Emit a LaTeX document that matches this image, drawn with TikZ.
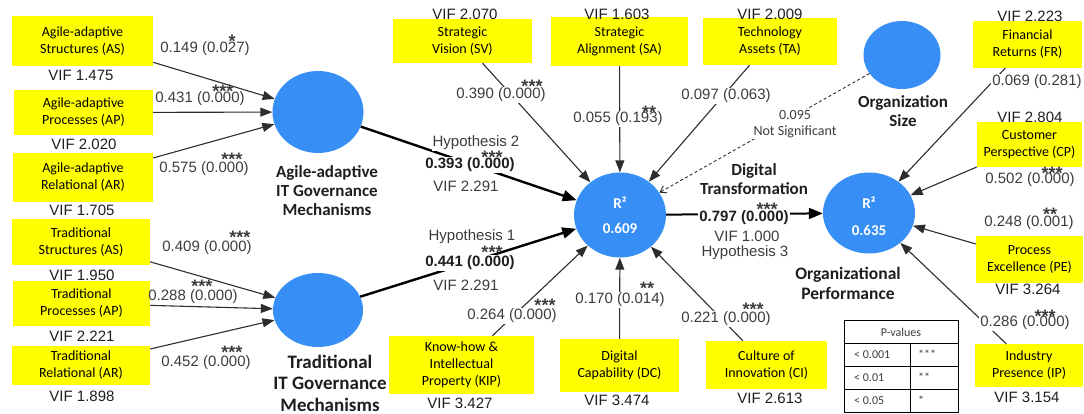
\documentclass[tikz,border=0pt]{standalone}
\usepackage{fontspec}
\setmainfont{Liberation Sans}
\newfontfamily\carl{Carlito}
\usetikzlibrary{shapes.geometric,arrows.meta}
\definecolor{yboxc}{RGB}{255,255,0}
\definecolor{lvblue}{RGB}{55,143,245}
\definecolor{linec}{RGB}{45,45,45}
\definecolor{labc}{RGB}{60,60,60}
\definecolor{darkc}{RGB}{30,30,30}
\begin{document}
\begin{tikzpicture}[x=1pt,y=-1pt,
  ybox/.style={fill=yboxc,inner sep=0pt,align=center,text=black,font=\carl\fontsize{14}{17}\selectfont},
  lv/.style={ellipse,fill=lvblue,inner sep=0pt},
  arr/.style={draw=linec,line width=1.1pt,-{Triangle[length=12pt,width=9pt]}},
  harr/.style={draw=black,line width=2.4pt,-{Triangle[length=14pt,width=11pt]}},
  darr/.style={draw=linec,line width=0.9pt,dash pattern=on 3pt off 2.5pt,-{Straight Barb[length=6pt,width=8pt]}},
  lbl/.style={font=\fontsize{15}{18}\selectfont,text=labc,inner sep=1pt},
  lblw/.style={lbl,fill=white},
  blbl/.style={lbl,fill=white,text=darkc,font=\bfseries\fontsize{15}{18}\selectfont},
  stars/.style={font=\bfseries\fontsize{18}{18}\selectfont,text=labc,inner sep=0pt,anchor=north},
  vif/.style={font=\fontsize{15}{18}\selectfont,text=darkc,inner sep=0pt},
  ttl/.style={font=\carl\bfseries\fontsize{17}{19}\selectfont,align=center,text=darkc,inner sep=0pt},
  cin/.style={text=white,font=\carl\bfseries\fontsize{15}{15}\selectfont,inner sep=0pt},
  tbl/.style={font=\carl\fontsize{12}{14}\selectfont,text=labc,inner sep=0pt}
]
\useasboundingbox (0,0) rectangle (1084,414);

% ---------- yellow indicator boxes ----------
\node[ybox,minimum width=141pt,minimum height=50pt] (AS) at (82.5,41) {Agile-adaptive\\Structures (AS)};
\node[ybox,minimum width=139pt,minimum height=45pt] (AP) at (83.5,112.5) {Agile-adaptive\\Processes (AP)};
\node[ybox,minimum width=140pt,minimum height=49pt] (AR) at (83,177.5) {Agile-adaptive\\Relational (AR)};
\node[ybox,minimum width=138pt,minimum height=46pt] (TS) at (81,242) {Traditional\\Structures (AS)};
\node[ybox,minimum width=137pt,minimum height=45pt] (TP) at (81.5,303.5) {Traditional\\Processes (AP)};
\node[ybox,minimum width=138pt,minimum height=39pt] (TR) at (81,365) {Traditional\\Relational (AR)};

\node[ybox,minimum width=139pt,minimum height=44pt] (SV) at (462.5,41) {Strategic\\Vision (SV)};
\node[ybox,minimum width=137pt,minimum height=49pt] (SA) at (619.5,41.5) {Strategic\\Alignment (SA)};
\node[ybox,minimum width=134pt,minimum height=47pt] (TA) at (770,41.5) {Technology\\Assets (TA)};

\node[ybox,minimum width=145pt,minimum height=58pt] (KIP) at (461.5,365) {Know-how \&\\Intellectual\\Property (KIP)};
\node[ybox,minimum width=119pt,minimum height=53pt] (DC) at (619.5,365.5) {Digital\\Capability (DC)};
\node[ybox,minimum width=121pt,minimum height=48pt] (CI) at (766.5,365) {Culture of\\Innovation (CI)};

\node[ybox,minimum width=109pt,minimum height=47pt] (FR) at (1027.5,44.5) {Financial\\Returns (FR)};
\node[ybox,minimum width=105pt,minimum height=45pt] (CP) at (1029.5,144.5) {Customer\\Perspective (CP)};
\node[ybox,minimum width=107pt,minimum height=47pt] (PE) at (1029.5,259.5) {Process\\Excellence (PE)};
\node[ybox,minimum width=108pt,minimum height=43pt] (IP) at (1029,365.5) {Industry\\Presence (IP)};

% ---------- latent variables ----------
\node[lv,minimum width=91pt,minimum height=82pt] (AGC) at (318,112) {};
\node[lv,minimum width=90pt,minimum height=74pt] (TGC) at (318,310) {};
\node[lv,minimum width=92pt,minimum height=85pt] (DT) at (620,215) {};
\node[lv,minimum width=92pt,minimum height=81pt] (OP) at (869,213) {};
\node[lv,minimum width=77pt,minimum height=68pt] (OS) at (902,55) {};

\node[cin] (DTr) at (620,203) {R²};
\node[cin] (DTv) at (620,228) {0.609};
\node[cin] (OPr) at (869,203) {R²};
\node[cin] (OPv) at (869,230) {0.635};

% ---------- titles ----------
\node[ttl] (tAGC) at (327,191) {Agile-adaptive\\IT Governance\\Mechanisms};
\node[ttl,font=\carl\bfseries\fontsize{19}{21.5}\selectfont] (tTGC) at (330,383) {Traditional\\IT Governance\\Mechanisms};
\node[ttl] (tOS) at (903,111.5) {Organization\\Size};
\node[ttl] (tDT) at (754,179.5) {Digital\\Transformation};
\node[ttl,font=\carl\bfseries\fontsize{17.5}{20}\selectfont] (tOP) at (848,283) {Organizational\\Performance};

% ---------- connectors ----------
\draw[arr] (AS) -- (AGC);
\draw[arr] (AP) -- (AGC);
\draw[arr] (AR) -- (AGC);
\draw[arr] (TS) -- (TGC);
\draw[arr] (TP) -- (TGC);
\draw[arr] (TR) -- (TGC);
\draw[arr] (SV) -- (DT);
\draw[arr] (SA) -- (DT);
\draw[arr] (TA) -- (DT);
\draw[arr] (KIP) -- (DT);
\draw[arr] (DC) -- (DT);
\draw[arr] (CI) -- (DT);
\draw[arr] (FR) -- (OP);
\draw[arr] (CP) -- (OP);
\draw[arr] (PE) -- (OP);
\draw[arr] (IP) -- (OP);
\draw[harr] (AGC) -- (DT);
\draw[harr] (TGC) -- (DT);
\draw[harr,line width=2pt] (DT) -- (OP);
\draw[darr] (OS) -- (DT);

% ---------- path labels ----------
\node[lbl] (l1) at (205,49) {0.149 (0.027)};
\node[lbl] (l2) at (200,99) {0.431 (0.000)};
\node[lbl] (l3) at (204,169) {0.575 (0.000)};
\node[lbl] (l4) at (207,248) {0.409 (0.000)};
\node[lbl] (l5) at (193,297) {0.288 (0.000)};
\node[lbl] (l6) at (206,363) {0.452 (0.000)};

\node[lblw] (l7) at (501,95) {0.390 (0.000)};
\node[lblw] (l8) at (618,119) {0.055 (0.193)};
\node[lblw] (l9) at (726,96) {0.097 (0.063)};
\node[lblw,font=\carl\fontsize{14}{16}\selectfont,align=center] (l10) at (795,124) {0.095\\Not Significant};

\node[lblw] (h2) at (476,143) {Hypothesis 2};
\node[blbl] (h2v) at (470,165) {0.393 (0.000)};
\node[vif,text=labc] (h2f) at (466,186) {VIF 2.291};
\node[lblw] (h1) at (472,237) {Hypothesis 1};
\node[blbl] (h1v) at (470,263) {0.441 (0.000)};
\node[vif,text=labc] (h1f) at (466,285) {VIF 2.291};

\node[lblw] (l11) at (512,316) {0.264 (0.000)};
\node[lblw] (l12) at (620,300) {0.170 (0.014)};
\node[lblw] (l13) at (726,319) {0.221 (0.000)};

\node[blbl] (h3v) at (744,218) {0.797 (0.000)};
\node[vif,text=labc] (h3f) at (747,236) {VIF 1.000};
\node[lbl] (h3) at (745,253) {Hypothesis 3};

\node[lblw] (l14) at (1037,82) {0.069 (0.281)};
\node[lblw] (l15) at (1030,180) {0.502 (0.000)};
\node[lblw] (l16) at (1029,223) {0.248 (0.001)};
\node[lblw] (l17) at (1025,323) {0.286 (0.000)};

% ---------- significance stars ----------
\node[stars] (s1) at (232,35) {*};
\node[stars] (s2) at (223,85) {***};
\node[stars] (s3) at (232,153) {***};
\node[stars] (s4) at (240,231) {***};
\node[stars] (s5) at (202,280) {***};
\node[stars] (s6) at (232,346) {***};
\node[stars] (s7) at (532,80) {***};
\node[stars] (s8) at (649,106) {**};
\node[stars] (s9) at (492,151) {***};
\node[stars] (s10) at (492,246) {***};
\node[stars] (s11) at (545,299) {***};
\node[stars] (s12) at (647,282) {**};
\node[stars] (s13) at (753,303) {***};
\node[stars] (s14) at (767,203) {***};
\node[stars] (s15) at (1052,167) {***};
\node[stars] (s16) at (1050,208) {**};
\node[stars] (s17) at (1045,310) {***};

% ---------- VIF values ----------
\node[vif] (v1) at (81,75) {VIF 1.475};
\node[vif] (v2) at (84,144) {VIF 2.020};
\node[vif] (v3) at (82,210) {VIF 1.705};
\node[vif] (v4) at (82,275) {VIF 1.950};
\node[vif] (v5) at (82,336) {VIF 2.221};
\node[vif] (v6) at (82,396) {VIF 1.898};
\node[vif] (v7) at (465,14) {VIF 2.070};
\node[vif] (v8) at (617,14) {VIF 1.603};
\node[vif] (v9) at (770,14) {VIF 2.009};
\node[vif] (v10) at (460,403) {VIF 3.427};
\node[vif] (v11) at (617,400) {VIF 3.474};
\node[vif] (v12) at (770,398) {VIF 2.613};
\node[vif] (v13) at (1030,16) {VIF 2.223};
\node[vif] (v14) at (1030,117) {VIF 2.804};
\node[vif] (v15) at (1028,289) {VIF 3.264};
\node[vif] (v16) at (1027,397) {VIF 3.154};

% ---------- P-values table ----------
\draw[line width=0.8pt,black] (844,320) rectangle (958,412);
\draw[line width=0.8pt,black] (844,343) -- (958,343) (844,366) -- (958,366) (844,389) -- (958,389) (910,343) -- (910,412);
\node[tbl] (tp) at (901,332) {P-values};
\node[tbl,anchor=west] (tp1) at (854,355) {< 0.001};
\node[tbl,anchor=west] (tp2) at (854,378) {< 0.01};
\node[tbl,anchor=west] (tp3) at (854,401) {< 0.05};
\node[tbl,anchor=west] (tq1) at (918,354) {***};
\node[tbl,anchor=west] (tq2) at (918,377) {**};
\node[tbl,anchor=west] (tq3) at (918,400) {*};
\end{tikzpicture}
\end{document}
